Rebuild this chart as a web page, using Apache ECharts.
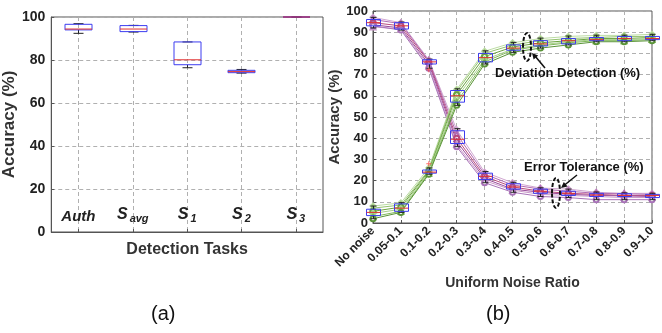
<!DOCTYPE html>
<html>
<head>
<meta charset="utf-8">
<script src="https://cdn.jsdelivr.net/npm/echarts@6/dist/echarts.min.js"></script>
<style>
html, body { margin: 0; padding: 0; background: #fff; }
#main { width: 662px; height: 333px; }
</style>
</head>
<body>
<div id="main"></div>
<script>
var FONT = "'Liberation Sans', Arial, sans-serif";

// (a) 检测任务
var tasks = ['Auth', 'Savg', 'S1', 'S2', 'S3'];
// [min, q1, median, q3, max]
var taskBox = [
    [92.4, 94.0, 94.4, 96.6, 96.9],
    [93.0, 93.2, 94.4, 96.0, 96.1],
    [76.4, 77.8, 80.1, 88.4, 88.4],
    [73.9, 74.1, 74.6, 75.2, 75.6],
    [100, 100, 100, 100, 100]
];

// (b) 噪声比例
var noise = ['No noise', '0.05-0.1', '0.1-0.2', '0.2-0.3', '0.3-0.4', '0.4-0.5',
    '0.5-0.6', '0.6-0.7', '0.7-0.8', '0.8-0.9', '0.9-1.0'];

// Error Tolerance 曲线
var et1 = [97, 94.5, 77, 44, 24, 19, 16.5, 16, 14.5, 14, 14];
var et2 = [96, 94, 76.5, 42, 23, 18, 16, 15, 14, 13.8, 13.5];
var et3 = [94.5, 93, 76, 40, 22, 17, 15, 14, 13.5, 13, 13];
var et4 = [93.5, 92, 75, 38.5, 21, 16, 14.5, 13.5, 13, 12.8, 12.5];
var et5 = [92.5, 91.5, 74, 37, 20, 15.5, 13.5, 13, 12.5, 12, 12];
var et6 = [93, 91, 73, 36, 19, 14.5, 12.5, 12, 11, 11, 11];

// Deviation Detection 曲线
var dd1 = [8, 9.5, 26, 63, 81, 85, 87, 88, 88.5, 88.5, 89];
var dd2 = [7, 8.5, 25, 62, 80, 84, 86, 87, 87.5, 88, 88];
var dd3 = [5.5, 7.5, 24.5, 60.5, 78.5, 83, 85, 86, 87, 87, 87.5];
var dd4 = [4.5, 6.5, 24, 59, 77, 82, 84, 85.5, 86.5, 86.5, 87];
var dd5 = [3, 5.5, 23.5, 57, 76, 81.5, 83.5, 85, 86, 86, 86.5];
var dd6 = [2, 5, 23, 55.5, 75, 80.5, 82.5, 84, 85.5, 85.5, 86];

// 箱线 [min, q1, median, q3, max]
var etBox = [
    [92, 93, 94.5, 96, 97],
    [91, 91.5, 93, 94.5, 94.8],
    [73, 75, 76, 77, 77.3],
    [36, 37.5, 39.5, 43.5, 44.5],
    [19, 20.5, 22, 23.5, 24.3],
    [14.5, 16, 17, 18.5, 19.2],
    [12.5, 14, 15, 16, 16.6],
    [12, 13, 14, 15, 16],
    [11, 12.5, 13.2, 14, 14.6],
    [11, 12.5, 13, 13.8, 14.2],
    [11, 12, 13, 13.5, 14]
];
var ddBox = [
    [2, 3.5, 5, 6.5, 8],
    [5, 5.5, 7, 9, 9.6],
    [23, 23.5, 24, 25, 26],
    [55.5, 57, 60, 62.5, 63.3],
    [75, 76, 78, 80, 81.2],
    [80.5, 81.5, 82.5, 84, 85.2],
    [82.5, 83.5, 84.5, 86, 87.2],
    [84, 84.5, 86, 87, 88.2],
    [85.5, 86, 86.5, 87.5, 88.6],
    [85.5, 86, 87, 88, 88.6],
    [86, 86.5, 87, 88, 89]
];
// 离群点 [类别序号, 值]
var etOut = [[2, 72.3]];
var ddOut = [[2, 28]];

var etColors = ['#d0a6d0', '#b26bb2', '#b84a7c', '#9a4a9a', '#c898c8', '#a872b8'];
var ddColors = ['#bcdca4', '#94c26e', '#6aa23e', '#a8d08a', '#80b85a', '#5a9438'];
var marks = ['emptyDiamond', 'emptyTriangle', 'emptyCircle', 'emptyDiamond', 'emptyTriangle', 'emptyCircle'];

// (a) 横轴用半格类别：偶数位是边界占位，奇数位是任务，网格线就落在任务中心
var halfAxis = [];
tasks.forEach(function(t, i) {
    halfAxis.push('_' + i);
    halfAxis.push(t);
});
halfAxis.push('_' + tasks.length);

var myChart = echarts.init(document.getElementById('main'));

function boxRender(boxW, capW) {
    return function(params, api) {
        var i = api.value(0);
        var lo = api.coord([i, api.value(1)]);
        var q1 = api.coord([i, api.value(2)]);
        var md = api.coord([i, api.value(3)]);
        var q3 = api.coord([i, api.value(4)]);
        var hi = api.coord([i, api.value(5)]);
        var x = Math.round(lo[0]) + 0.5, h = boxW / 2, c = capW / 2;
        var blk = { stroke: '#222', lineWidth: 1 };
        return {
            type: 'group',
            children: [
                { type: 'line', shape: { x1: x, y1: hi[1], x2: x, y2: q3[1] }, style: blk },
                { type: 'line', shape: { x1: x, y1: q1[1], x2: x, y2: lo[1] }, style: blk },
                { type: 'line', shape: { x1: x - c, y1: hi[1], x2: x + c, y2: hi[1] }, style: blk },
                { type: 'line', shape: { x1: x - c, y1: lo[1], x2: x + c, y2: lo[1] }, style: blk },
                { type: 'rect', shape: { x: x - h, y: q3[1], width: boxW, height: q1[1] - q3[1] },
                    style: { fill: 'none', stroke: '#3c3cf0', lineWidth: 1 } },
                { type: 'line', shape: { x1: x - h, y1: md[1], x2: x + h, y2: md[1] },
                    style: { stroke: '#e03030', lineWidth: 1 } }
            ]
        };
    };
}

function withIndex(arr, step, offset) {
    return arr.map(function(b, i) { return [i * step + offset].concat(b); });
}

function isTaskSlot(idx) {
    return idx % 2 === 1;
}

var plusSymbol = 'path://M4,0H6V4H10V6H6V10H4V6H0V4H4Z';
var dashed = { color: '#b0b0b0', type: [4, 3], width: 1 };

var series = [];
[et1, et2, et3, et4, et5, et6].forEach(function(d, k) {
    series.push({
        type: 'line', xAxisIndex: 1, yAxisIndex: 1, data: d,
        symbol: marks[k], symbolSize: 5, z: 2,
        lineStyle: { width: 1, color: etColors[k] },
        itemStyle: { color: etColors[k], borderWidth: 1 }
    });
});
[dd1, dd2, dd3, dd4, dd5, dd6].forEach(function(d, k) {
    series.push({
        type: 'line', xAxisIndex: 1, yAxisIndex: 1, data: d,
        symbol: marks[k], symbolSize: 5, z: 2,
        lineStyle: { width: 1, color: ddColors[k] },
        itemStyle: { color: ddColors[k], borderWidth: 1 }
    });
});
series.push({
    type: 'custom', xAxisIndex: 0, yAxisIndex: 0, z: 5,
    renderItem: boxRender(27, 10), data: withIndex(taskBox, 2, 1)
});
series.push({
    type: 'custom', xAxisIndex: 1, yAxisIndex: 1, z: 5,
    renderItem: boxRender(14, 6), data: withIndex(etBox, 1, 0)
});
series.push({
    type: 'custom', xAxisIndex: 1, yAxisIndex: 1, z: 5,
    renderItem: boxRender(14, 6), data: withIndex(ddBox, 1, 0)
});
series.push({
    type: 'scatter', xAxisIndex: 1, yAxisIndex: 1, z: 6,
    symbol: plusSymbol, symbolSize: 5, itemStyle: { color: '#ff4040' },
    data: etOut.concat(ddOut)
});

var frame = { show: true, lineStyle: { color: '#555', width: 1 } };
var ticks = { show: true, inside: true, length: 3, lineStyle: { color: '#555' } };

myChart.setOption({
    animation: false,
    textStyle: { fontFamily: FONT },
    grid: [
        { left: 50, top: 17, width: 273, height: 215, show: true, borderColor: '#555', borderWidth: 1 },
        { left: 373, top: 11, width: 279, height: 212, show: true, borderColor: '#555', borderWidth: 1 }
    ],
    xAxis: [{
        gridIndex: 0, type: 'category', data: halfAxis, boundaryGap: false,
        name: 'Detection Tasks', nameLocation: 'middle', nameGap: 10,
        nameTextStyle: { fontFamily: FONT, fontWeight: 'bold', fontSize: 16, color: '#333' },
        axisLine: frame,
        axisTick: { show: true, inside: true, length: 3, interval: isTaskSlot, lineStyle: { color: '#555' } },
        splitLine: { show: true, interval: isTaskSlot, lineStyle: dashed },
        axisLabel: {
            inside: true, margin: 8, interval: isTaskSlot, color: '#222',
            formatter: function(v) {
                if (v.charAt(0) === '_') return '';
                if (v === 'Auth') return '{i|Auth}';
                return '{s|S}{sub|' + v.substring(1) + '}';
            },
            rich: {
                i: { fontFamily: FONT, fontWeight: 'bold', fontStyle: 'italic', fontSize: 15, color: '#222' },
                s: { fontFamily: FONT, fontWeight: 'bold', fontStyle: 'italic', fontSize: 16, color: '#222' },
                sub: { fontFamily: FONT, fontWeight: 'bold', fontStyle: 'italic', fontSize: 11, color: '#222', padding: [8, 0, 0, 2] }
            }
        }
    }, {
        gridIndex: 1, type: 'category', data: noise, boundaryGap: false,
        name: 'Uniform Noise Ratio', nameLocation: 'middle', nameGap: 50,
        nameTextStyle: { fontFamily: FONT, fontWeight: 'bold', fontSize: 14, color: '#333' },
        axisLine: frame,
        axisTick: ticks,
        splitLine: { show: true, lineStyle: dashed },
        axisLabel: { rotate: 45, interval: 0, margin: 6, fontFamily: FONT, fontWeight: 'bold', fontSize: 12, color: '#222' }
    }],
    yAxis: [{
        gridIndex: 0, type: 'value', min: 0, max: 100, interval: 20,
        name: 'Accuracy (%)', nameLocation: 'middle', nameGap: 30,
        nameTextStyle: { fontFamily: FONT, fontWeight: 'bold', fontSize: 17, color: '#333' },
        axisLine: frame,
        axisTick: ticks,
        splitLine: { show: true, lineStyle: dashed },
        axisLabel: { margin: 6, fontFamily: FONT, fontWeight: 'bold', fontSize: 14, color: '#222' }
    }, {
        gridIndex: 1, type: 'value', min: 0, max: 100, interval: 10,
        name: 'Accuracy (%)', nameLocation: 'middle', nameGap: 30,
        nameTextStyle: { fontFamily: FONT, fontWeight: 'bold', fontSize: 15, color: '#333' },
        axisLine: frame,
        axisTick: ticks,
        splitLine: { show: true, lineStyle: dashed },
        axisLabel: { margin: 5, fontFamily: FONT, fontWeight: 'bold', fontSize: 13, color: '#222' }
    }],
    graphic: [
        { type: 'text', left: 151, top: 304, style: { text: '(a)', font: '20px ' + FONT, fill: '#111' } },
        { type: 'text', left: 486, top: 304, style: { text: '(b)', font: '20px ' + FONT, fill: '#111' } },
        { type: 'text', left: 495, top: 67, z: 10, style: { text: 'Deviation Detection (%)', font: 'bold 13px ' + FONT, fill: '#111' } },
        { type: 'text', left: 524, top: 161, z: 10, style: { text: 'Error Tolerance (%)', font: 'bold 13px ' + FONT, fill: '#111' } },
        { type: 'ellipse', z: 10, shape: { cx: 527, cy: 47, rx: 4, ry: 14 }, style: { fill: 'none', stroke: '#111', lineWidth: 2, lineDash: [4, 2] } },
        { type: 'ellipse', z: 10, shape: { cx: 556, cy: 193, rx: 4, ry: 15 }, style: { fill: 'none', stroke: '#111', lineWidth: 2, lineDash: [4, 2] } },
        { type: 'line', z: 10, shape: { x1: 545, y1: 68, x2: 535, y2: 56 }, style: { stroke: '#111', lineWidth: 1.5 } },
        { type: 'polygon', z: 10, shape: { points: [[532, 53], [538.2, 55.5], [533.6, 59.5]] }, style: { fill: '#111' } },
        { type: 'line', z: 10, shape: { x1: 577, y1: 175, x2: 564, y2: 185.5 }, style: { stroke: '#111', lineWidth: 1.5 } },
        { type: 'polygon', z: 10, shape: { points: [[561, 188], [567.6, 186.5], [563.8, 181.9]] }, style: { fill: '#111' } }
    ],
    series: series
});
</script>
</body>
</html>
